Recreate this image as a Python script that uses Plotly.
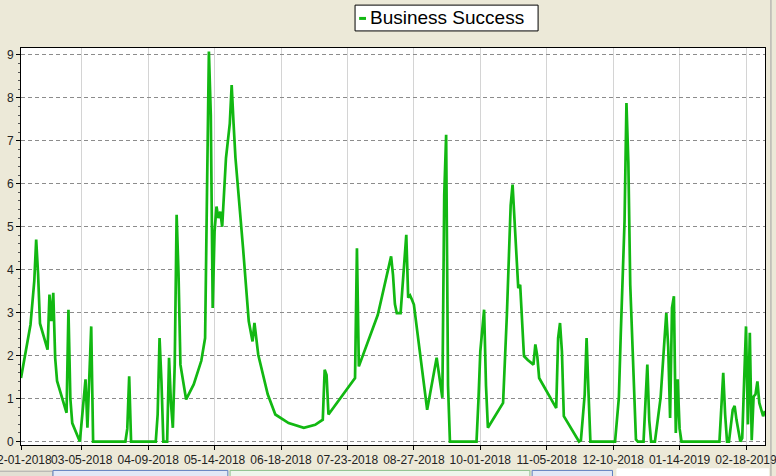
import pandas as pd
import plotly.graph_objects as go

start_date = "2018-02-01"
end_date = "2019-02-28"

day_offsets = [
    0, 3, 5, 7, 8, 9, 10, 14, 15, 16,
    17, 18, 19, 24, 25, 26, 27, 31, 33, 34,
    35, 36, 37, 38, 55, 56, 57, 58, 71, 72,
    73, 74, 75, 77, 78, 79, 80, 81, 82, 83,
    84, 87, 91, 95, 97, 98, 99, 100, 101, 102,
    103, 104, 105, 106, 107, 108, 110, 111, 112, 113,
    117, 120, 122, 123, 125, 130, 134, 141, 149, 155,
    159, 160, 161, 162, 176, 177, 178, 188, 195, 196,
    197, 198, 200, 202, 203, 204, 205, 206, 207, 214,
    219, 222, 223, 224, 225, 226, 240, 241, 242, 244,
    245, 246, 254, 256, 257, 258, 259, 260, 261, 262,
    263, 264, 265, 267, 270, 271, 272, 273, 282, 283,
    284, 285, 286, 294, 295, 297, 298, 299, 300, 313,
    315, 316, 317, 318, 319, 320, 321, 323, 324, 325,
    328, 329, 330, 331, 332, 334, 337, 339, 340, 341,
    342, 343, 344, 345, 346, 347, 348, 368, 369, 370,
    371, 372, 373, 374, 375, 376, 377, 379, 380, 381,
    382, 383, 384, 385, 386, 387, 388, 389, 391, 392,
]

success_values = [
    1.48, 2.2, 2.72, 3.74, 4.7, 3.9, 2.75, 2.14, 3.42, 2.8,
    3.46, 1.95, 1.41, 0.67, 3.07, 1.0, 0.43, 0.0, 1.0, 1.45,
    0.32, 1.6, 2.68, 0.0, 0.0, 0.3, 1.52, 0.0, 0.0, 0.63,
    2.41, 1.4, 0.0, 0.0, 1.95, 0.9, 0.32, 1.8, 5.28, 3.9,
    1.79, 0.98, 1.33, 1.88, 2.41, 5.8, 9.08, 7.6, 3.11, 4.9,
    5.47, 5.2, 5.35, 5.0, 5.9, 6.6, 7.4, 8.3, 7.4, 6.6,
    4.5, 2.8, 2.33, 2.76, 2.02, 1.1, 0.63, 0.43, 0.32, 0.39,
    0.51, 1.67, 1.55, 0.63, 1.48, 4.5, 1.75, 2.95, 4.31, 3.88,
    3.2, 2.99, 2.99, 4.35, 4.81, 3.35, 3.4, 3.3, 3.19, 0.74,
    1.95, 1.02, 5.74, 7.14, 1.3, 0.0, 0.0, 0.94, 2.1, 3.07,
    1.3, 0.32, 0.9, 2.95, 4.5, 5.5, 5.98, 5.2, 4.2, 3.57,
    3.65, 2.9, 1.99, 1.9, 1.79, 2.26, 2.0, 1.48, 0.78, 2.41,
    2.76, 2.1, 0.59, 0.0, 0.03, 1.09, 2.41, 1.15, 0.0, 0.0,
    1.02, 2.5, 3.96, 5.13, 7.88, 6.5, 3.65, 1.4, 0.05, 0.0,
    0.0, 0.9, 1.79, 0.5, 0.0, 0.0, 1.02, 2.35, 2.99, 2.2,
    0.55, 3.11, 3.38, 0.2, 1.45, 0.3, 0.0, 0.0, 0.9, 1.6,
    0.63, 0.0, 0.0, 0.4, 0.74, 0.83, 0.5, 0.0, 0.08, 1.4,
    2.68, 0.4, 2.53, 0.03, 1.05, 1.1, 1.4, 0.9, 0.59, 0.71,
]

tick_dates = [
    "2018-02-01", "2018-03-05", "2018-04-09", "2018-05-14", "2018-06-18",
    "2018-07-23", "2018-08-27", "2018-10-01", "2018-11-05", "2018-12-10",
    "2019-01-14", "2019-02-18",
]
tick_labels = [
    "02-01-2018", "03-05-2018", "04-09-2018", "05-14-2018", "06-18-2018",
    "07-23-2018", "08-27-2018", "10-01-2018", "11-05-2018", "12-10-2018",
    "01-14-2019", "02-18-2019",
]
series_name = "Business Success"
line_color = "#12b812"

dates = pd.Timestamp(start_date) + pd.to_timedelta(day_offsets, unit="D")

fig = go.Figure()
fig.add_trace(go.Scatter(
    x=dates, y=success_values, mode="lines", name=series_name,
    line=dict(color=line_color, width=2.7), showlegend=False,
))

font_family = "Liberation Sans, Arial, sans-serif"

# legend box drawn by hand (small swatch, tight box, as in the original)
fig.add_shape(type="rect", xref="paper", yref="paper",
              x0=0.449, x1=0.695, y0=1.043, y1=1.108,
              fillcolor="#FFFFFF", line=dict(color="#000000", width=1), layer="above")
fig.add_shape(type="line", xref="paper", yref="paper",
              x0=0.4545, x1=0.4637, y0=1.0745, y1=1.0745,
              line=dict(color=line_color, width=3), layer="above")
fig.add_annotation(xref="paper", yref="paper", x=0.4665, y=1.0756,
                   xanchor="left", yanchor="middle", showarrow=False,
                   text=series_name,
                   font=dict(family=font_family, size=19, color="#000000"))

# window chrome below the chart (tab strip) and right border
chrome = [
    dict(x0=-0.03, x1=0.043, y0=-0.09, y1=-0.066, fill="#E3E0D4", line="#A8A8A8"),
    dict(x0=0.043, x1=0.278, y0=-0.09, y1=-0.064, fill="#E2E8F6", line="#5F7FC0"),
    dict(x0=0.281, x1=0.684, y0=-0.09, y1=-0.064, fill="#EEF6EC", line="#8CC08C"),
    dict(x0=0.687, x1=0.795, y0=-0.09, y1=-0.064, fill="#E2E8F6", line="#5F7FC0"),
    dict(x0=0.801, x1=1.005, y0=-0.09, y1=-0.060, fill="#FFFFFF", line="#FFFFFF"),
]
for c in chrome:
    fig.add_shape(type="rect", xref="paper", yref="paper",
                  x0=c["x0"], x1=c["x1"], y0=c["y0"], y1=c["y1"],
                  fillcolor=c["fill"], line=dict(color=c["line"], width=1), layer="above")
fig.add_shape(type="line", xref="paper", yref="paper",
              x0=1.008, x1=1.008, y0=-0.1, y1=1.15,
              line=dict(color="#A0A0A0", width=1), layer="above")

fig.update_layout(
    width=776, height=476,
    margin=dict(l=21, r=11, t=48, b=31, autoexpand=False),
    paper_bgcolor="#ECE9D8",
    plot_bgcolor="#FFFFFF",
    font=dict(family=font_family, size=12, color="#222222"),
    showlegend=False,
)

fig.update_xaxes(
    type="date",
    range=[start_date, end_date],
    tickmode="array", tickvals=tick_dates, ticktext=tick_labels,
    tickangle=0,
    ticks="outside", ticklen=4, tickcolor="#000000",
    ticklabeloverflow="allow",
    showgrid=True, gridcolor="#D4D4D4", gridwidth=1,
    showline=True, linecolor="#000000", linewidth=1, mirror=True,
    zeroline=False, automargin=False,
    tickfont=dict(size=12, color="#222222"),
)

fig.update_yaxes(
    range=[-0.08, 9.16],
    tickmode="linear", tick0=0, dtick=1,
    ticks="outside", ticklen=4, tickcolor="#000000",
    minor=dict(dtick=0.2, ticklen=2, tickcolor="#555555", ticks="outside", showgrid=False),
    showgrid=True, gridcolor="#8C8C8C", gridwidth=1, griddash="4px,3px",
    showline=True, linecolor="#000000", linewidth=1, mirror=True,
    zeroline=False, automargin=False,
    tickfont=dict(size=12, color="#222222"),
)

fig.write_html(
    "out.html",
    config={"displayModeBar": False},
    post_script="document.body.style.margin='0';document.body.style.background='#ECE9D8';",
)
